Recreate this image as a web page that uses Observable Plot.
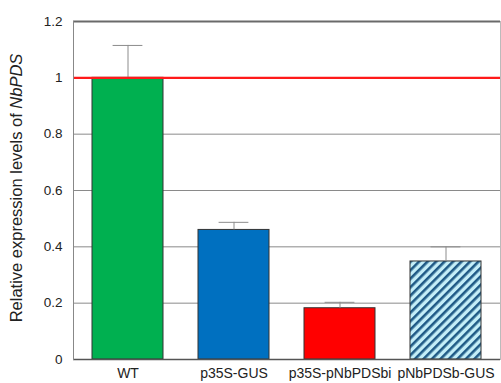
<!DOCTYPE html>
<html>
<head>
<meta charset="utf-8">
<script src="https://cdn.jsdelivr.net/npm/d3@7"></script>
<script src="https://cdn.jsdelivr.net/npm/@observablehq/plot@0.6"></script>
<style>
  html, body { margin: 0; padding: 0; background: #fff; }
  #chart svg { display: block; font-family: "Liberation Sans", Arial, sans-serif; }
</style>
</head>
<body>
<div id="chart"></div>
<script>
const categories = ["WT", "p35S-GUS", "p35S-pNbPDSbi", "pNbPDSb-GUS"];
const values = [1.0, 0.46, 0.182, 0.348];
const errors = [0.115, 0.027, 0.021, 0.052];
const fills = ["#00b050", "#0070c0", "#ff0000", "url(#hatch)"];
const yTicks = [0, 0.2, 0.4, 0.6, 0.8, 1, 1.2];
const yTickLabels = ["0", "0.2", "0.4", "0.6", "0.8", "1", "1.2"];
const referenceLevel = [1];

const data = categories.map((c, i) => ({cat: c, v: values[i], e: errors[i], f: fills[i]}));

const plot = Plot.plot({
  width: 501,
  height: 383,
  marginLeft: 73,
  marginTop: 21,
  marginBottom: 24,
  marginRight: 1,
  style: {fontFamily: "Liberation Sans, Arial, sans-serif", background: "#fff", color: "#222"},
  x: {domain: categories, paddingInner: 0.33, paddingOuter: 0.165, label: null},
  y: {domain: [0, 1.2], label: null},
  marks: [
    Plot.axisX({tickSize: 0, tickPadding: 9, fontSize: 14, label: null}),
    Plot.axisY({ticks: yTicks, tickFormat: d => yTickLabels[yTicks.indexOf(d)], tickSize: 0, tickPadding: 11, fontSize: 13.5, label: null}),
    Plot.ruleY(yTicks.slice(1, -1), {stroke: "#8a8a8a", strokeWidth: 1}),
    Plot.barY(data, {x: "cat", y: "v", fill: d => d.f, stroke: "#333", strokeWidth: 1}),
    Plot.ruleX(data, {x: "cat", y1: "v", y2: d => d.v + d.e, stroke: "#8c8c8c", strokeWidth: 1}),
    Plot.tickY(data, {x: "cat", y: d => d.v + d.e, stroke: "#8c8c8c", strokeWidth: 1, insetLeft: 50.4, insetRight: 50.4}),
    Plot.ruleY(referenceLevel, {stroke: "#ff1a1a", strokeWidth: 2.2}),
    Plot.ruleY([0], {stroke: "#555", strokeWidth: 1.5}),
    Plot.ruleY([1.2], {stroke: "#6a6a6a", strokeWidth: 2}),
    Plot.frame({stroke: "#888", strokeWidth: 1, anchor: "left"}),
    Plot.frame({stroke: "#bbb", strokeWidth: 1, anchor: "right"})
  ]
});

// hatch pattern for the last bar
const svg = d3.select(plot);
const defs = svg.insert("defs", ":first-child");
const pat = defs.append("pattern")
  .attr("id", "hatch")
  .attr("patternUnits", "userSpaceOnUse")
  .attr("width", 6).attr("height", 6)
  .attr("patternTransform", "rotate(45)");
pat.append("rect").attr("width", 6).attr("height", 6).attr("fill", "#c4eef8");
pat.append("rect").attr("width", 2.6).attr("height", 6).attr("fill", "#1f5a86");

// y-axis title with italic gene name
const title = svg.append("text")
  .attr("transform", "translate(18,188) rotate(-90)")
  .attr("text-anchor", "middle")
  .attr("dominant-baseline", "middle")
  .style("font-size", "16.5px")
  .attr("fill", "#222");
title.append("tspan").text("Relative expression levels of ");
title.append("tspan").style("font-style", "italic").text("NbPDS");

document.getElementById("chart").appendChild(plot);
</script>
</body>
</html>
